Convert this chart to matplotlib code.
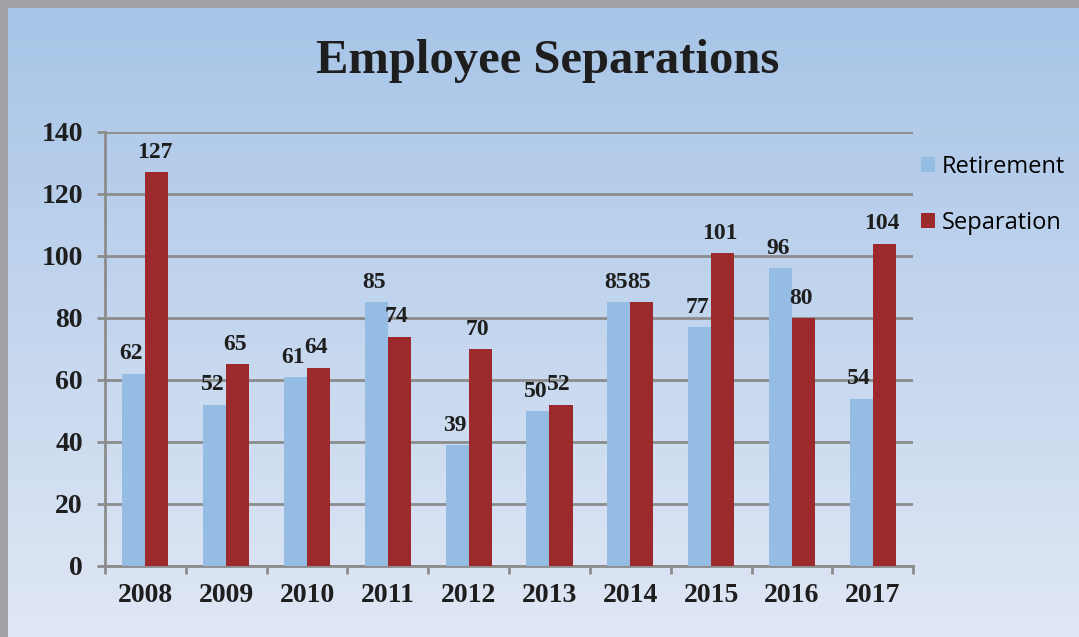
import numpy as np
import matplotlib.pyplot as plt
from matplotlib.patches import Rectangle

years = ['2008', '2009', '2010', '2011', '2012', '2013', '2014', '2015', '2016', '2017']
retirement = [62, 52, 61, 85, 39, 50, 85, 77, 96, 54]
separation = [127, 65, 64, 74, 70, 52, 85, 101, 80, 104]

blue = '#95bce3'
red = '#9c2a2c'
grid_c = '#8c8c8c'
serif = ['Liberation Serif', 'DejaVu Serif']

fig = plt.figure(figsize=(10.79, 6.37), dpi=100)

# background gradient + frame
bg = fig.add_axes([0, 0, 1, 1], zorder=-10)
top = np.array([166, 196, 231]) / 255
bot = np.array([224, 231, 245]) / 255
t = np.linspace(0, 1, 256)[:, None]
grad = top * (1 - t) + bot * t
bg.imshow(grad[:, None, :], aspect='auto', extent=[0, 1, 0, 1], origin='upper')
bg.add_patch(Rectangle((0, 1 - 8 / 637), 1, 8 / 637, color='#a2a2a6', lw=0))
bg.add_patch(Rectangle((0, 0), 8 / 1079, 1, color='#a2a2a6', lw=0))
bg.set_xlim(0, 1)
bg.set_ylim(0, 1)
bg.axis('off')

ax = fig.add_axes([0.0973, 0.1115, 0.749, 0.6813])
ax.patch.set_alpha(0)
x = np.arange(len(years))
w = 0.285
b1 = ax.bar(x - w / 2, retirement, w, color=blue, label='Retirement', zorder=3)
b2 = ax.bar(x + w / 2, separation, w, color=red, label='Separation', zorder=3)

for bars, vals in [(b1, retirement), (b2, separation)]:
    for r, v in zip(bars, vals):
        ax.text(r.get_x() + r.get_width() / 2 - 0.03, v + 3, str(v), ha='center', va='bottom',
                fontsize=17, fontweight='bold', family=serif, color='#1e1e1e', zorder=4)

ax.set_xlim(-0.5, len(years) - 0.5)
ax.set_ylim(0, 140)
ax.set_yticks(range(0, 141, 20))
ax.yaxis.grid(True, color=grid_c, lw=2, zorder=1)
ax.set_xticks(x)
ax.set_xticklabels(years)
ax.set_xticks(np.arange(-0.5, len(years)), minor=True)
ax.tick_params(axis='x', which='major', length=0, pad=12)
ax.tick_params(axis='x', which='minor', length=6, width=2, color=grid_c, direction='out')
ax.tick_params(axis='y', length=6, width=2, color=grid_c, pad=10)
for lab in ax.get_xticklabels() + ax.get_yticklabels():
    lab.set_family(serif)
    lab.set_fontweight('bold')
    lab.set_fontsize(20)
    lab.set_color('#1e1e1e')
for s in ['top', 'right']:
    ax.spines[s].set_visible(False)
for s in ['left', 'bottom']:
    ax.spines[s].set_color(grid_c)
    ax.spines[s].set_linewidth(2)

fig.text(0.508, 0.905, 'Employee Separations', ha='center', va='center',
         fontsize=35, fontweight='bold', family=serif, color='#1e1e1e')

ax.legend(loc='upper left', bbox_to_anchor=(0.995, 0.975), frameon=False,
          prop={'family': 'Open Sans', 'size': 17}, handlelength=0.6, handleheight=0.6,
          handletextpad=0.3, labelspacing=1.35, borderpad=0)

fig.savefig('out.png', dpi=100)
